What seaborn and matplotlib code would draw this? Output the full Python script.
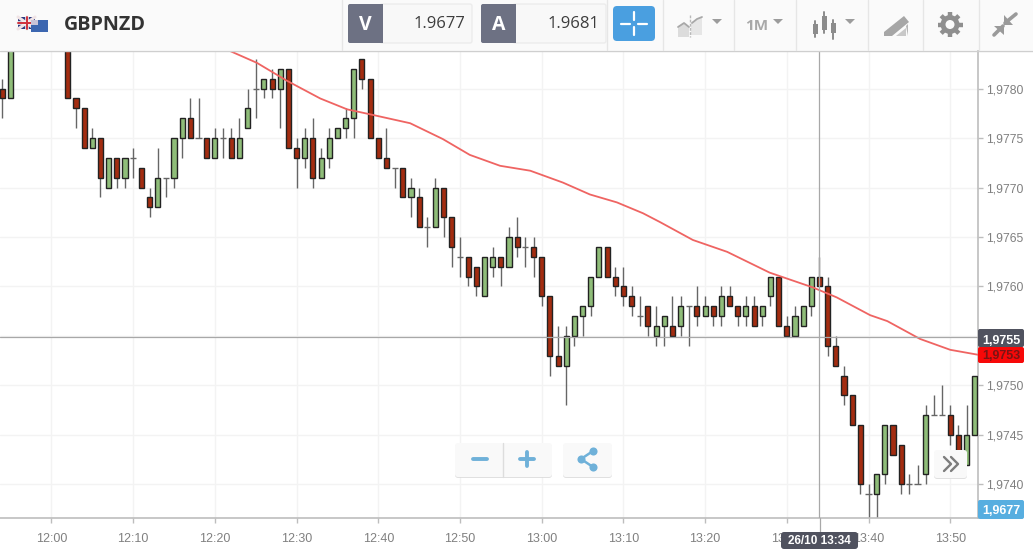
import matplotlib
matplotlib.use("Agg")
import matplotlib.pyplot as plt
from matplotlib.patches import Rectangle, FancyBboxPatch, Polygon, Circle
from matplotlib.ticker import FixedLocator, FixedFormatter
import numpy as np
import pandas as pd
import seaborn as sns

# ---- data: pips above 1.9700, one candle per minute (minutes after 12:00)
minutes = [-6, -5] + list(range(2, 114))
opens = [80, 79, 86, 79, 78, 74, 75, 70, 73, 71, 73, 72, 69, 68, 71, 71, 75, 77, 75, 75, 73, 75, 75, 73,
         76, 80, 80, 81, 80, 82, 74, 73, 75, 71, 73, 75, 76, 77, 83, 81, 75, 73, 72, 72, 69, 69, 66, 66, 70, 67,
         63, 63, 62, 59, 62, 63, 62, 65, 64, 64, 63, 59, 53, 52, 55, 57, 58, 61, 64, 61, 60, 59, 57, 58, 55, 56, 56, 56,
         58, 58, 57, 58, 57, 59, 58, 57, 58, 57, 59, 61, 56, 55, 56, 58, 61, 60, 54, 51, 49, 46, 39, 39, 41, 46, 44, 40,
         40, 41, 47, 47, 47, 45, 42, 45]
closes = [79, 85, 79, 78, 74, 75, 71, 73, 71, 73, 73, 70, 68, 71, 71, 75, 77, 75, 75, 73, 75, 75, 73, 75,
          78, 80, 81, 80, 82, 74, 73, 75, 71, 73, 75, 76, 77, 82, 81, 75, 73, 72, 72, 69, 70, 66, 66, 70, 67, 64,
          63, 61, 60, 63, 63, 62, 65, 64, 64, 63, 59, 53, 52, 55, 57, 58, 61, 64, 61, 60, 59, 58, 57, 56, 56, 57, 55, 58,
          58, 57, 58, 57, 59, 58, 57, 58, 56, 58, 61, 56, 55, 57, 58, 61, 60, 54, 52, 49, 46, 40, 39, 41, 46, 43, 40, 40,
          40, 47, 47, 47, 45, 43, 45, 51]
highs = [81, 86, 86, 79, 78, 76, 75, 73, 73, 73, 74, 72, 70, 74, 71, 75, 77, 79, 79, 75, 76, 76, 76, 77,
         80, 83, 81, 82, 82, 82, 75, 76, 77, 74, 76, 76, 78, 82, 83, 81, 75, 76, 72, 72, 71, 70, 67, 71, 70, 67,
         65, 63, 62, 63, 64, 63, 66, 67, 65, 65, 63, 59, 56, 56, 57, 58, 61, 64, 64, 62, 62, 60, 59, 58, 58, 57, 59, 59,
         58, 60, 59, 58, 60, 60, 58, 59, 59, 58, 61, 61, 57, 58, 58, 61, 63, 61, 55, 52, 49, 46, 40, 41, 46, 46, 44, 41,
         42, 48, 49, 50, 48, 46, 48, 51]
lows = [77, 79, 79, 76, 74, 74, 69, 70, 70, 70, 71, 70, 67, 68, 69, 70, 73, 75, 75, 73, 73, 73, 73, 73,
        76, 77, 79, 79, 76, 74, 70, 72, 70, 71, 72, 75, 75, 75, 80, 75, 73, 72, 70, 69, 67, 66, 64, 66, 65, 62,
        61, 60, 59, 59, 61, 60, 62, 63, 62, 61, 58, 51, 52, 48, 54, 55, 57, 61, 61, 59, 58, 57, 56, 55, 54, 54, 55, 55,
        54, 56, 57, 56, 56, 58, 56, 56, 56, 56, 58, 56, 55, 55, 56, 57, 60, 53, 52, 48, 46, 39, 36, 36, 40, 43, 39, 39,
        40, 40, 47, 47, 44, 42, 42, 45]
ma_minutes = [21.85, 25.15, 28.8, 32.9, 36.2, 39, 43.9, 47.9, 51.2, 54.9, 58.6, 62.6, 65.9, 69.2, 72.4, 74.5,
              78.5, 82.7, 87.9, 93.2, 96.1, 100.2, 102.3, 106.3, 110, 113.4]
ma_pips = [83.8, 82.6, 80.8, 79.0, 77.9, 77.4, 76.5, 74.9, 73.3, 72.2, 71.7, 70.5, 69.3, 68.5, 67.4, 66.5,
           64.7, 63.5, 61.4, 59.9, 58.9, 57.1, 56.5, 54.7, 53.6, 53.1]
price_ticks = [1.9740, 1.9745, 1.9750, 1.9755, 1.9760, 1.9765, 1.9770, 1.9775, 1.9780]
price_labels = ["1,9740", "1,9745", "1,9750", "1,9755", "1,9760", "1,9765", "1,9770", "1,9775", "1,9780"]
time_ticks = [0, 10, 20, 30, 40, 50, 60, 70, 80, 90, 100, 110]
time_labels = ["12:00", "12:10", "12:20", "12:30", "12:40", "12:50", "13:00", "13:10", "13:20", "13:30", "13:40", "13:50"]
symbol = "GBPNZD"
bid, ask = "1.9677", "1.9681"
cursor_minute, cursor_price = 94, 1.97549
cursor_label = "26/10 13:34"

UP, DOWN, EDGE, WICK = "#8fbd79", "#a32c10", "#222222", "#666666"
W, H = 1033, 553
sns.set_theme(style="white")
plt.rcParams["font.family"] = ["Liberation Sans", "DejaVu Sans"]
fig = plt.figure(figsize=(W / 100, H / 100), dpi=100, facecolor="#ffffff")

ax = fig.add_axes([0, 1 - 518 / H, 978 / W, (518 - 51) / H])
df = pd.DataFrame({"m": minutes, "o": opens, "c": closes, "h": highs, "l": lows})
for col in "ochl":
    df[col] = 1.97 + df[col] / 1e4
ma = pd.DataFrame({"m": ma_minutes, "p": 1.97 + np.array(ma_pips) / 1e4})

ax.set_xlim(-6.30, 113.40)
ax.set_ylim(1.97366, 1.97838)
ax.grid(True, color="#f3f3f3", lw=1)
ax.set_axisbelow(True)
ax.xaxis.set_major_locator(FixedLocator(time_ticks))
ax.xaxis.set_major_formatter(FixedFormatter(time_labels))
ax.yaxis.set_major_locator(FixedLocator(price_ticks))
ax.yaxis.set_major_formatter(FixedFormatter(price_labels))
ax.yaxis.tick_right()
ax.tick_params(axis="x", length=3.6, width=1, color="#bdbdbd", labelcolor="#808080", labelsize=9, pad=7, bottom=True)
ax.tick_params(axis="y", length=3.6, width=1, color="#bdbdbd", labelcolor="#808080", labelsize=8.8, pad=2, right=True)
for s in ["top", "left"]:
    ax.spines[s].set_visible(False)
for s in ["right", "bottom"]:
    ax.spines[s].set_color("#bdbdbd")
    ax.spines[s].set_linewidth(1.2)

ax.vlines(df.m, df.l, df.h, color=WICK, lw=1.0, zorder=2)
doji = (df.o - df.c).abs() < 1e-7
bod = df[~doji]
ax.bar(bod.m, (bod.c - bod.o).abs(), bottom=bod[["o", "c"]].min(axis=1), width=0.62,
       color=[UP if c >= o else DOWN for o, c in zip(bod.o, bod.c)],
       edgecolor=EDGE, linewidth=1.0, zorder=3)
ax.hlines(df.o[doji], df.m[doji] - 0.38, df.m[doji] + 0.38, color=WICK, lw=1.0, zorder=3)
sns.lineplot(data=ma, x="m", y="p", color="#ef6462", lw=1.3, ax=ax, zorder=4, legend=False)
ax.set_xlabel("")
ax.set_ylabel("")
ax.axvline(cursor_minute, color="#a8a8a8", lw=0.9, zorder=5)
ax.axhline(cursor_price, color="#a8a8a8", lw=0.9, zorder=5)

# ---- overlay in pixel space: toolbar, badges and buttons
ov = fig.add_axes([0, 0, 1, 1], facecolor="none")
ov.set_xlim(0, W)
ov.set_ylim(H, 0)
ov.axis("off")


def box(x0, y0, x1, y1, fc, ec="none", r=2, lw=1, z=3, alpha=1):
    ov.add_patch(FancyBboxPatch((x0 + r, y0 + r), x1 - x0 - 2 * r, y1 - y0 - 2 * r,
                                boxstyle=f"round,pad={r},rounding_size={r}", fc=fc, ec=ec, lw=lw, zorder=z, alpha=alpha))


ov.add_patch(Rectangle((0, 0), W, 50, fc="#fafafa", ec="none", zorder=1))
ov.plot([0, W], [50.5, 50.5], color="#cfcfcf", lw=1, zorder=2)
ov.plot([819.5, 819.5], [518, 533], color="#a8a8a8", lw=0.9, zorder=2)
for x in [341, 606, 662, 733, 795, 867, 922, 978]:
    ov.plot([x + .5, x + .5], [0, 50], color="#e6e6e6", lw=1, zorder=2)

# flags
ov.add_patch(Rectangle((18, 17), 17, 12, fc="#2f3b80", ec="none", zorder=3))
ov.plot([18, 35], [17, 29], color="#f0e4e6", lw=2.2, zorder=4)
ov.plot([18, 35], [29, 17], color="#f0e4e6", lw=2.2, zorder=4)
ov.plot([26.5, 26.5], [17, 29], color="#f2f2f2", lw=2.6, zorder=4)
ov.plot([18, 35], [23, 23], color="#f2f2f2", lw=2.6, zorder=4)
ov.plot([18, 35], [23, 23], color="#d0303c", lw=1.4, zorder=4)
ov.plot([26.5, 26.5], [17, 29], color="#d0303c", lw=1.4, zorder=4)
ov.add_patch(Rectangle((31, 20), 17, 12, fc="#3c66b0", ec="none", zorder=5))
ov.add_patch(Rectangle((31, 20), 7, 5, fc="#c9c4d8", ec="none", zorder=6))
ov.text(64, 25, symbol, fontsize=14.2, fontweight="bold", color="#333333", family="Open Sans", va="center", ha="left", zorder=6)

for x0, x1, x2, letter, val in [(348, 383, 472, "V", bid), (481, 516, 606, "A", ask)]:
    box(x1 - 3, 4, x2, 43, "#f8f8f8", ec="#ececec")
    box(x0, 4, x1, 43, "#6d7183")
    ov.add_patch(Rectangle((x1 - 3, 4), 3, 39, fc="#6d7183", ec="none", zorder=3))
    ov.text((x0 + x1) / 2, 24.5, letter, color="#ffffff", fontsize=14, fontweight="bold", family="Open Sans", ha="center", va="center", zorder=6)
    ov.text(x2 - 7, 24.5, val, color="#3d3d3d", fontsize=12, family="Open Sans", ha="right", va="center", zorder=6)

box(613, 6, 655, 41, "#4a9fe0", r=4)
for a, b in [((621, 23.5), (630, 23.5)), ((638, 23.5), (647, 23.5)), ((634, 12), (634, 20)), ((634, 27), (634, 35))]:
    ov.plot([a[0], b[0]], [a[1], b[1]], color="#ffffff", lw=1.6, zorder=5)

# chart-type icon
ov.add_patch(Polygon([(678, 37), (678, 27), (684, 23), (689, 27), (689, 37)], fc="#dcdcdc", ec="none", zorder=4))
ov.add_patch(Polygon([(691, 35), (691, 22), (697, 20), (702, 17), (702, 35)], fc="#e6e6e6", ec="none", zorder=4))
ov.plot([678, 684, 689], [27, 23, 27], color="#a8a8a8", lw=1.3, zorder=5)
ov.plot([692, 697, 702], [23, 19, 17], color="#a8a8a8", lw=1.3, zorder=5)
ov.plot([690, 690], [15, 37], color="#b8b8b8", lw=1, ls=(0, (2, 1)), zorder=5)


def caret(x, y=19):
    ov.add_patch(Polygon([(x - 5, y), (x + 5, y), (x, y + 5)], fc="#9c9c9c", ec="none", zorder=5))


caret(717)
caret(778)
caret(850)
ov.text(745, 25.5, "1M", color="#a8a8a8", fontsize=11, fontweight="bold", family="Open Sans", va="center", ha="left", zorder=6)
for x, wy, by in [(815, (21, 37), (24, 34)), (824, (12, 33), (16, 30)), (833, (20, 39), (23, 33))]:
    ov.plot([x, x], wy, color="#8c8c8c", lw=1.4, zorder=5)
    ov.add_patch(Rectangle((x - 2.5, by[0]), 5, by[1] - by[0], fc="#8c8c8c", ec="none", zorder=5))

# pencil icon
ov.add_patch(Polygon([(884, 32), (904, 16), (909, 22), (892, 36), (884, 36)], fc="#a6a6a6", ec="none", zorder=5))
ov.add_patch(Polygon([(896, 36), (906, 28), (906, 36)], fc="#c8c8c8", ec="none", zorder=5))
ov.add_patch(Polygon([(908, 36), (908, 24), (906, 26)], fc="#b5b5b5", ec="none", zorder=5))

# gear icon
for ang in np.arange(0, 180, 45):
    dx, dy = 12.5 * np.cos(np.radians(ang)), 12.5 * np.sin(np.radians(ang))
    ov.plot([950 - dx, 950 + dx], [24.5 - dy, 24.5 + dy], color="#8f8f8f", lw=3.2, solid_capstyle="butt", zorder=5)
ov.add_patch(Circle((950, 24.5), 9.5, fc="#8f8f8f", ec="none", zorder=5))
ov.add_patch(Circle((950, 24.5), 4.5, fc="#fafafa", ec="none", zorder=6))

# compress icon
for (x0, y0, x1, y1) in [(1016, 14, 1005, 23), (994, 35, 1003, 26)]:
    ov.plot([x0, x1], [y0, y1], color="#9a9a9a", lw=2.6, zorder=5)
ov.add_patch(Polygon([(1004, 15), (1004, 24.5), (1013, 24.5)], fc="#9a9a9a", ec="none", zorder=5))
ov.add_patch(Polygon([(994, 25.5), (1004, 25.5), (1004, 35)], fc="#9a9a9a", ec="none", zorder=5))

# price badges
box(978, 329, 1024, 347, "#50525f", r=2)
ov.text(1001, 340.5, "1,9755", color="#ffffff", fontsize=9, fontweight="bold", ha="center", va="center", zorder=6)
box(978, 347, 1024, 363, "#f70808", r=2)
ov.text(1001, 356, "1,9753", color="#7a1414", fontsize=9, fontweight="bold", ha="center", va="center", zorder=6)
box(978, 500, 1024, 519, "#57aee0", r=2)
ov.text(1001, 511, "1,9677", color="#ffffff", fontsize=9, fontweight="bold", ha="center", va="center", zorder=6)
box(781, 532, 858, 549, "#50525f", r=3)
ov.text(819.5, 541.5, cursor_label, color="#ffffff", fontsize=8.5, fontweight="bold", ha="center", va="center", zorder=6)

# floating buttons
for x0, y0, x1, y1 in [(455, 443, 552, 477), (563, 443, 612, 477), (934, 450, 967, 478)]:
    box(x0, y0 + 1, x1, y1 + 1, "#d9d9d9", r=3, alpha=.8)
    box(x0, y0, x1, y1, "#f9f9f9", r=3, z=4)
ov.plot([502.5, 502.5], [443, 477], color="#dddddd", lw=1, zorder=5)
ov.plot([473, 487], [459, 459], color="#6fb1d9", lw=2.8, zorder=5)
ov.plot([520, 534], [459, 459], color="#6fb1d9", lw=2.8, zorder=5)
ov.plot([527, 527], [452, 466], color="#6fb1d9", lw=2.8, zorder=5)
ov.plot([593, 581, 593], [451, 459, 467], color="#6fb1d9", lw=1.8, zorder=5)
ov.scatter([593, 581, 593], [451, 459, 467], s=34, c="#6fb1d9", linewidths=0, zorder=6)
ov.plot([944, 951, 944], [457, 464, 471], color="#7d7d7d", lw=1.7, zorder=5)
ov.plot([951, 958, 951], [457, 464, 471], color="#7d7d7d", lw=1.7, zorder=5)

fig.savefig("out.png", dpi=100)
